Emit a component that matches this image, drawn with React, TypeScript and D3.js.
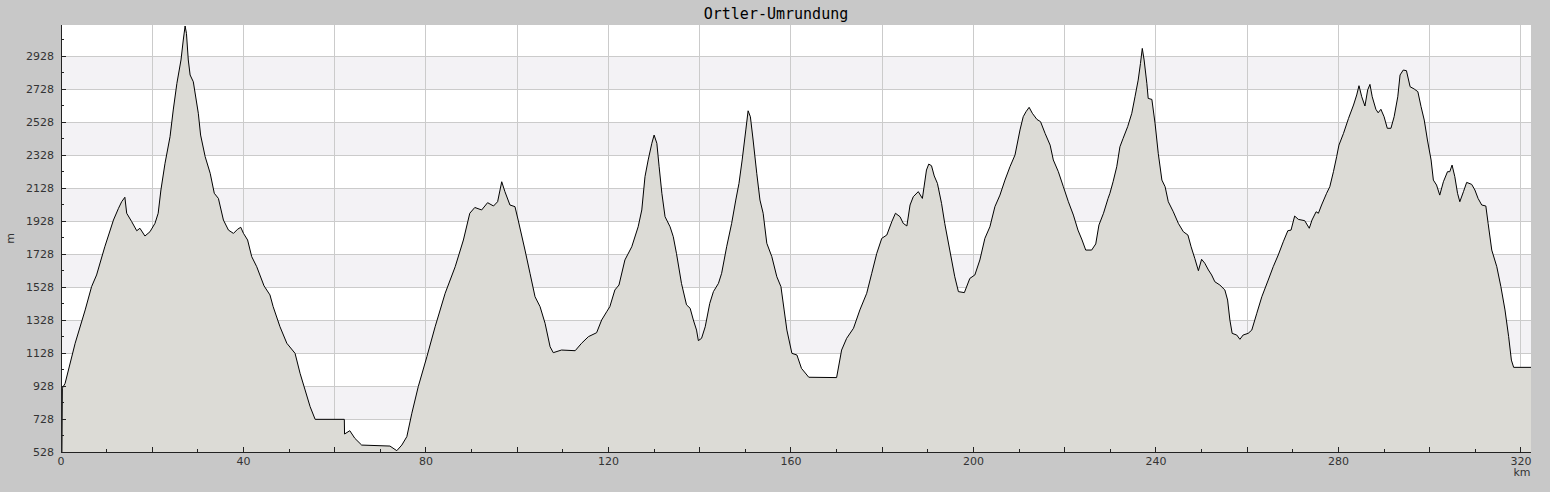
import * as d3 from "d3";
import React from "react";

// elevation profile: distance (km) and altitude (m)
const km = [
  0.2, 0.3, 0.9, 3.1, 5.3, 6.7, 7.8, 9.6, 11.5, 12.6, 13.3, 14.0, 14.4, 15.5, 16.6, 17.3, 18.4, 19.5, 20.6, 21.3,
  21.9, 22.8, 23.9, 24.6, 25.4, 26.3, 26.8, 27.2, 27.5, 27.9, 28.3, 29.0, 30.1, 30.6, 31.6, 32.7, 33.6, 34.5, 35.6, 36.7,
  37.8, 38.7, 39.4, 40.0, 40.9, 41.8, 42.9, 44.5, 45.8, 46.5, 48.0, 49.5, 51.3, 52.4, 53.5, 54.6, 55.7, 62.1, 62.15, 63.3,
  64.4, 65.9, 72.1, 73.6, 74.7, 75.8, 76.9, 78.3, 80.2, 82.0, 84.2, 86.4, 88.2, 89.6, 90.7, 92.2, 93.5, 94.8, 95.7, 96.6,
  97.3, 98.4, 99.5, 100.2, 101.7, 102.8, 103.9, 105.0, 106.1, 107.2, 107.9, 109.7, 112.7, 114.1, 115.6, 117.4, 118.5, 119.6, 120.3, 121.4,
  122.3, 123.6, 125.1, 126.5, 127.3, 128.0, 128.7, 129.5, 130.0, 130.6, 131.1, 131.7, 132.4, 133.5, 134.2, 134.9, 136.0, 137.1, 137.9, 138.6,
  139.3, 139.7, 140.4, 141.2, 142.2, 143.0, 144.1, 144.8, 145.9, 147.0, 147.9, 148.6, 149.3, 150.1, 150.6, 151.1, 151.7, 152.5, 153.2, 153.9,
  154.7, 155.8, 156.9, 157.8, 158.5, 159.1, 160.2, 161.3, 162.3, 163.9, 170.0, 171.1, 172.2, 173.7, 175.1, 176.6, 177.7, 178.8, 179.9, 181.0,
  182.1, 182.9, 183.9, 184.6, 185.4, 186.1, 186.8, 187.9, 188.8, 189.7, 190.2, 190.8, 191.4, 192.1, 193.0, 193.7, 194.8, 195.9, 196.7, 198.0,
  199.2, 200.3, 201.4, 202.5, 203.6, 204.7, 205.8, 206.9, 208.0, 209.1, 210.2, 210.9, 211.5, 212.2, 212.9, 213.9, 214.7, 215.7, 216.8, 217.5,
  218.6, 219.7, 220.8, 221.9, 222.9, 223.8, 224.6, 225.9, 226.8, 227.5, 228.5, 229.5, 229.9, 230.6, 231.4, 232.1, 232.8, 233.8, 234.7, 235.4,
  236.1, 236.6, 237.0, 237.4, 238.0, 238.3, 239.1, 239.8, 240.5, 241.3, 242.0, 242.7, 243.8, 244.9, 246.0, 247.0, 247.7, 248.5, 249.3, 250.0,
  250.7, 251.5, 252.2, 252.9, 254.0, 255.1, 255.7, 256.2, 256.7, 257.7, 258.4, 259.1, 260.2, 261.0, 262.1, 263.2, 264.6, 265.7, 266.8, 267.9,
  268.9, 269.6, 270.4, 271.2, 272.6, 273.6, 274.2, 275.1, 275.6, 276.3, 277.4, 278.1, 278.9, 279.6, 280.1, 281.1, 282.2, 283.3, 284.0, 284.5,
  285.1, 285.8, 286.4, 286.9, 287.4, 288.2, 288.7, 289.3, 290.0, 290.7, 291.5, 292.2, 293.0, 293.5, 294.2, 294.9, 295.7, 296.6, 297.4, 298.1,
  298.8, 299.5, 300.3, 300.8, 301.5, 302.2, 303.0, 303.9, 304.4, 304.9, 305.5, 306.1, 306.6, 307.4, 308.1, 309.2, 309.9, 310.6, 311.4, 312.3,
  312.8, 313.6, 314.7, 315.6, 316.5, 317.3, 317.9, 318.4, 322.2,
];
const ele = [
  528, 915, 944, 1187, 1389, 1530, 1601, 1772, 1934, 2005, 2045, 2072, 1975, 1924, 1869, 1884, 1837, 1863, 1914, 1975,
  2116, 2278, 2439, 2601, 2762, 2904, 3025, 3110, 3065, 2904, 2813, 2772, 2581, 2449, 2318, 2217, 2096, 2065, 1934, 1873,
  1853, 1878, 1890, 1853, 1813, 1712, 1651, 1535, 1480, 1409, 1287, 1187, 1126, 1005, 904, 803, 726, 726, 637, 657,
  611, 570, 564, 536, 570, 621, 763, 924, 1106, 1287, 1490, 1651, 1813, 1975, 2010, 1995, 2039, 2019, 2045, 2166,
  2106, 2025, 2015, 1934, 1752, 1611, 1469, 1409, 1308, 1166, 1130, 1146, 1142, 1187, 1227, 1251, 1328, 1378, 1409, 1510,
  1540, 1692, 1772, 1893, 1995, 2197, 2298, 2399, 2449, 2399, 2257, 2096, 1954, 1893, 1833, 1732, 1550, 1420, 1399, 1328,
  1267, 1203, 1217, 1287, 1429, 1500, 1550, 1611, 1772, 1914, 2055, 2156, 2298, 2480, 2596, 2560, 2419, 2217, 2055, 1975,
  1793, 1712, 1590, 1530, 1389, 1267, 1126, 1116, 1035, 981, 979, 1146, 1217, 1278, 1389, 1490, 1611, 1732, 1823, 1843,
  1924, 1975, 1954, 1914, 1898, 2025, 2075, 2106, 2065, 2237, 2273, 2263, 2201, 2156, 2035, 1914, 1752, 1590, 1500, 1494,
  1580, 1601, 1692, 1823, 1893, 2015, 2085, 2176, 2257, 2328, 2480, 2560, 2590, 2617, 2581, 2544, 2530, 2459, 2388, 2298,
  2227, 2136, 2045, 1964, 1873, 1813, 1752, 1752, 1789, 1904, 1975, 2065, 2096, 2166, 2257, 2378, 2429, 2500, 2581, 2681,
  2782, 2883, 2974, 2904, 2762, 2671, 2665, 2520, 2338, 2176, 2136, 2045, 1984, 1914, 1863, 1843, 1772, 1702, 1627, 1696,
  1672, 1631, 1601, 1560, 1540, 1510, 1449, 1328, 1247, 1237, 1211, 1237, 1247, 1267, 1369, 1469, 1570, 1651, 1722, 1802,
  1869, 1873, 1958, 1938, 1930, 1884, 1934, 1984, 1975, 2025, 2096, 2136, 2227, 2318, 2388, 2459, 2550, 2631, 2692, 2748,
  2681, 2625, 2722, 2756, 2681, 2605, 2584, 2605, 2560, 2490, 2490, 2560, 2681, 2813, 2843, 2839, 2742, 2728, 2712, 2621,
  2540, 2419, 2298, 2176, 2146, 2085, 2166, 2227, 2227, 2267, 2197, 2096, 2045, 2106, 2162, 2150, 2116, 2065, 2025, 2019,
  1914, 1752, 1651, 1530, 1389, 1227, 1085, 1041, 1041,
];

const title = "Ortler-Umrundung";
const yTickValues = [528, 728, 928, 1128, 1328, 1528, 1728, 1928, 2128, 2328, 2528, 2728, 2928];
const xTickValues = [0, 40, 80, 120, 160, 200, 240, 280, 320];
const xDomain = [0, 322.2];
const yDomain = [528, 3116];

const W = 1550, H = 492;
const M = { left: 61, right: 19, top: 25, bottom: 40 };

export default function App() {
  const x = d3.scaleLinear().domain(xDomain).range([M.left, W - M.right]);
  const y = d3.scaleLinear().domain(yDomain).range([H - M.bottom, M.top]);
  const pts = km.map((k, i) => [k, ele[i]] as [number, number]);
  const area = d3.area<[number, number]>().x(d => x(d[0])).y0(y(yDomain[0])).y1(d => y(d[1]));
  const line = d3.line<[number, number]>().x(d => x(d[0])).y(d => y(d[1]));

  const bands = d3.range(yTickValues.length).filter(i => i % 2 === 1).map(i => yTickValues[i]);
  const xGrid = d3.range(20, xDomain[1], 20);
  const xMinor = d3.range(0, xDomain[1], 10);
  const yMinor = d3.range(628, yDomain[1], 200);
  const axisFont = { fontFamily: "DejaVu Sans", fontSize: 11, fill: "#333" };
  const left = M.left, right = W - M.right, top = M.top, bottom = H - M.bottom;

  return (
    <svg width={W} height={H} style={{ position: "absolute", left: 0, top: 0, display: "block" }}>
      <rect width={W} height={H} fill="#c8c8c8" />
      <rect x={left} y={top} width={right - left} height={bottom - top} fill="#fff" />
      {bands.map(b => (
        <rect key={b} x={left} y={y(b + 200)} width={right - left} height={y(b) - y(b + 200)} fill="#f3f2f5" />
      ))}
      <g stroke="#cbcbcb" strokeWidth={1} shapeRendering="crispEdges">
        {yTickValues.slice(1).map(t => <line key={t} x1={left} x2={right} y1={y(t)} y2={y(t)} />)}
        {xGrid.map(t => <line key={t} x1={x(t)} x2={x(t)} y1={top} y2={bottom} />)}
      </g>
      <path d={area(pts)!} fill="#dcdbd6" />
      <path d={line(pts)!} fill="none" stroke="#000" strokeWidth={1} />
      <g stroke="#222" shapeRendering="crispEdges">
        <line x1={left} x2={left} y1={top} y2={bottom} />
        <line x1={left} x2={right} y1={bottom} y2={bottom} />
        {yTickValues.map(t => <line key={t} x1={left} x2={left + 5} y1={y(t)} y2={y(t)} />)}
        {yMinor.map(t => <line key={t} x1={left} x2={left + 3} y1={y(t)} y2={y(t)} />)}
        {xMinor.map(t => <line key={t} x1={x(t)} x2={x(t)} y1={bottom} y2={bottom - (t % 20 === 0 ? 5 : 3)} />)}
      </g>
      {yTickValues.map(t => (
        <text key={t} x={left - 7} y={y(t)} dy="0.35em" textAnchor="end" {...axisFont}>{t}</text>
      ))}
      {xTickValues.map(t => (
        <text key={t} x={x(t)} y={bottom + 13} textAnchor="middle" {...axisFont}>{t}</text>
      ))}
      <text x={x(320) + 1} y={bottom + 24} textAnchor="middle" {...axisFont}>km</text>
      <text transform={`translate(14,${(top + bottom) / 2}) rotate(-90)`} textAnchor="middle" {...axisFont}>m</text>
      <text x={(left + right) / 2 - 20} y={19} textAnchor="middle" fontFamily="DejaVu Sans Mono" fontSize={15} fill="#000">{title}</text>
    </svg>
  );
}
